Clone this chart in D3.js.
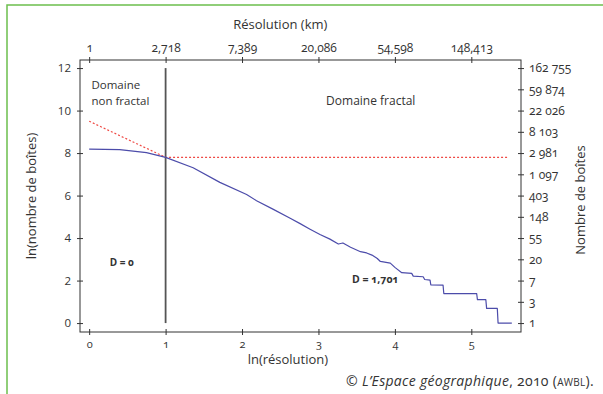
<!DOCTYPE html>
<html>
<head>
<meta charset="utf-8">
<script src="https://cdn.jsdelivr.net/npm/d3@7"></script>
<style>
  body { margin: 0; background: #fff; }
  svg { font-family: 'Open Sans', sans-serif; fill: #333; }
  .onum { font-variant-numeric: oldstyle-nums; }
</style>
</head>
<body>
<div id="chart"></div>
<script>
// ln(resolution) ticks and their resolution (km) labels
const lnResTicks = [0, 1, 2, 3, 4, 5];
const resLabels = ['1', '2,718', '7,389', '20,086', '54,598', '148,413'];

// ln(box count) ticks and box-count labels
const lnBoxTicks = [0, 2, 4, 6, 8, 10, 12];
const boxTicks = [0, 1, 2, 3, 4, 5, 6, 7, 8, 9, 10, 11, 12];
const boxLabels = ['1', '3', '7', '20', '55', '148', '403', '1 097', '2 981', '8 103', '22 026', '59 874', '162 755'];

// measured curve: ln(resolution) vs ln(number of boxes)
const lnRes = [0, 0.4, 0.75, 1.0, 1.36, 1.71, 2.06, 2.19, 2.41, 2.63, 2.76, 2.89, 3.02, 3.15, 3.26, 3.32,
  3.42, 3.55, 3.63, 3.7, 3.77, 3.81, 3.94, 4.0, 4.09, 4.22, 4.24, 4.37, 4.39, 4.46, 4.47, 4.63, 4.64,
  5.07, 5.08, 5.19, 5.2, 5.34, 5.35, 5.53];
const lnBoxes = [8.19, 8.16, 8.02, 7.8, 7.31, 6.62, 6.05, 5.76, 5.35, 4.93, 4.68, 4.42, 4.17, 3.95, 3.72, 3.77,
  3.57, 3.36, 3.3, 3.2, 3.04, 2.9, 2.82, 2.62, 2.37, 2.34, 2.21, 2.18, 2.05, 2.02, 1.8, 1.79, 1.39,
  1.39, 1.1, 1.1, 0.69, 0.69, 0, 0];

// fitted line (slope -D) and the plateau
const fitX = [0, 1, 5.48];
const fitY = [9.5, 7.8, 7.8];

const threshold = 1;

const W = 603, H = 394;
const margin = { top: 60, right: 82, bottom: 62, left: 80 };
const width = W - margin.left - margin.right;
const height = H - margin.top - margin.bottom;

const svg = d3.select('#chart').append('svg')
  .attr('width', W)
  .attr('height', H);

// green frame
svg.append('rect')
  .attr('x', 7).attr('y', 5)
  .attr('width', W + 20).attr('height', H + 20)
  .attr('fill', 'none')
  .attr('stroke', '#6cbf4e')
  .attr('stroke-width', 1.5);

const g = svg.append('g')
  .attr('transform', `translate(${margin.left}, ${margin.top})`);

const x = d3.scaleLinear().domain([-0.12, 5.65]).range([0, width]);
const y = d3.scaleLinear().domain([-0.42, 12.38]).range([height, 0]);

// plot box
g.append('rect')
  .attr('width', width).attr('height', height)
  .attr('fill', 'none')
  .attr('stroke', '#333')
  .attr('stroke-width', 1);

function styleAxis(sel, dir) {
  sel.select('.domain').remove();
  sel.selectAll('.tick line').attr('stroke', '#333');
  if (dir === 'v') sel.selectAll('.tick line').attr('x1', sel.attr('data-s') * 1);
  else sel.selectAll('.tick line').attr('y1', sel.attr('data-s') * 1);
  sel.selectAll('.tick text').attr('fill', '#333').attr('font-family', 'Open Sans, sans-serif');
}

// bottom axis
g.append('g')
  .attr('transform', `translate(0, ${height})`)
  .attr('data-s', -3)
  .call(d3.axisBottom(x).tickValues(lnResTicks).tickSize(3).tickPadding(5).tickFormat(d3.format('d')))
  .call(s => styleAxis(s, 'h'))
  .call(s => s.selectAll('text').attr('font-size', 11).attr('class', 'onum'));

// top axis
g.append('g')
  .attr('data-s', 3)
  .call(d3.axisTop(x).tickValues(lnResTicks).tickSize(3).tickPadding(5).tickFormat((d, i) => resLabels[i]))
  .call(s => styleAxis(s, 'h'))
  .call(s => s.selectAll('text').attr('font-size', 12).attr('class', 'onum'));

// left axis
g.append('g')
  .attr('data-s', 3)
  .call(d3.axisLeft(y).tickValues(lnBoxTicks).tickSize(3).tickPadding(6).tickFormat(d3.format('d')))
  .call(s => styleAxis(s, 'v'))
  .call(s => s.selectAll('text').attr('font-size', 11.5));

// right axis
g.append('g')
  .attr('transform', `translate(${width}, 0)`)
  .attr('data-s', -3)
  .call(d3.axisRight(y).tickValues(boxTicks).tickSize(3).tickPadding(5).tickFormat((d, i) => boxLabels[i]))
  .call(s => styleAxis(s, 'v'))
  .call(s => s.selectAll('text').attr('font-size', 12).attr('class', 'onum'));

// threshold separating the two domains
g.append('line')
  .attr('x1', x(threshold)).attr('x2', x(threshold))
  .attr('y1', y(12)).attr('y2', y(0))
  .attr('stroke', '#555')
  .attr('stroke-width', 1.8);

const line = d3.line()
  .x(function (d) { return x(d[0]); })
  .y(function (d) { return y(d[1]); });

g.append('path')
  .datum(fitX.map((v, i) => [v, fitY[i]]))
  .attr('fill', 'none')
  .attr('stroke', '#ef4a45')
  .attr('stroke-width', 1.2)
  .attr('stroke-dasharray', '2,2')
  .attr('d', line);

g.append('path')
  .datum(lnRes.map((v, i) => [v, lnBoxes[i]]))
  .attr('fill', 'none')
  .attr('stroke', '#4c4caa')
  .attr('stroke-width', 1.2)
  .attr('stroke-linejoin', 'round')
  .attr('d', line);

// annotations
const note = g.append('g').attr('fill', '#333').attr('font-size', 11.5);
note.append('text').attr('x', x(0.03)).attr('y', 29).text('Domaine');
note.append('text').attr('x', x(0.03)).attr('y', 44.5).text('non fractal');
note.append('text').attr('x', x(3.1)).attr('y', 44.5).attr('font-size', 12).text('Domaine fractal');
note.append('text').attr('x', x(0.27)).attr('y', y(2.68)).attr('font-size', 10)
  .attr('font-weight', 'bold').attr('class', 'onum').text('D = 0');
note.append('text').attr('x', x(3.44)).attr('y', y(1.87)).attr('font-size', 10.5)
  .attr('font-weight', 'bold').attr('class', 'onum').text('D = 1,701');

// axis titles
svg.append('text')
  .attr('x', margin.left + x(2.5)).attr('y', 29)
  .attr('text-anchor', 'middle').attr('font-size', 13)
  .text('Résolution (km)');

svg.append('text')
  .attr('x', margin.left + x(2.6)).attr('y', 364)
  .attr('text-anchor', 'middle').attr('font-size', 13)
  .text('ln(résolution)');

svg.append('text')
  .attr('transform', `translate(36, ${margin.top + height / 2}) rotate(-90)`)
  .attr('text-anchor', 'middle').attr('font-size', 13)
  .text('ln(nombre de boîtes)');

svg.append('text')
  .attr('transform', `translate(585, ${margin.top + height / 2 + 4}) rotate(-90)`)
  .attr('text-anchor', 'middle').attr('font-size', 13)
  .text('Nombre de boîtes');

// source
const src = svg.append('text')
  .attr('x', 594).attr('y', 386)
  .attr('text-anchor', 'end').attr('font-size', 14)
  .attr('letter-spacing', 0.3);
src.append('tspan').text('© ');
src.append('tspan').attr('font-style', 'italic').text('L’Espace géographique');
src.append('tspan').attr('class', 'onum').text(', 2010 (');
src.append('tspan').attr('font-variant', 'small-caps').text('awbl');
src.append('tspan').text(').');
</script>
</body>
</html>
